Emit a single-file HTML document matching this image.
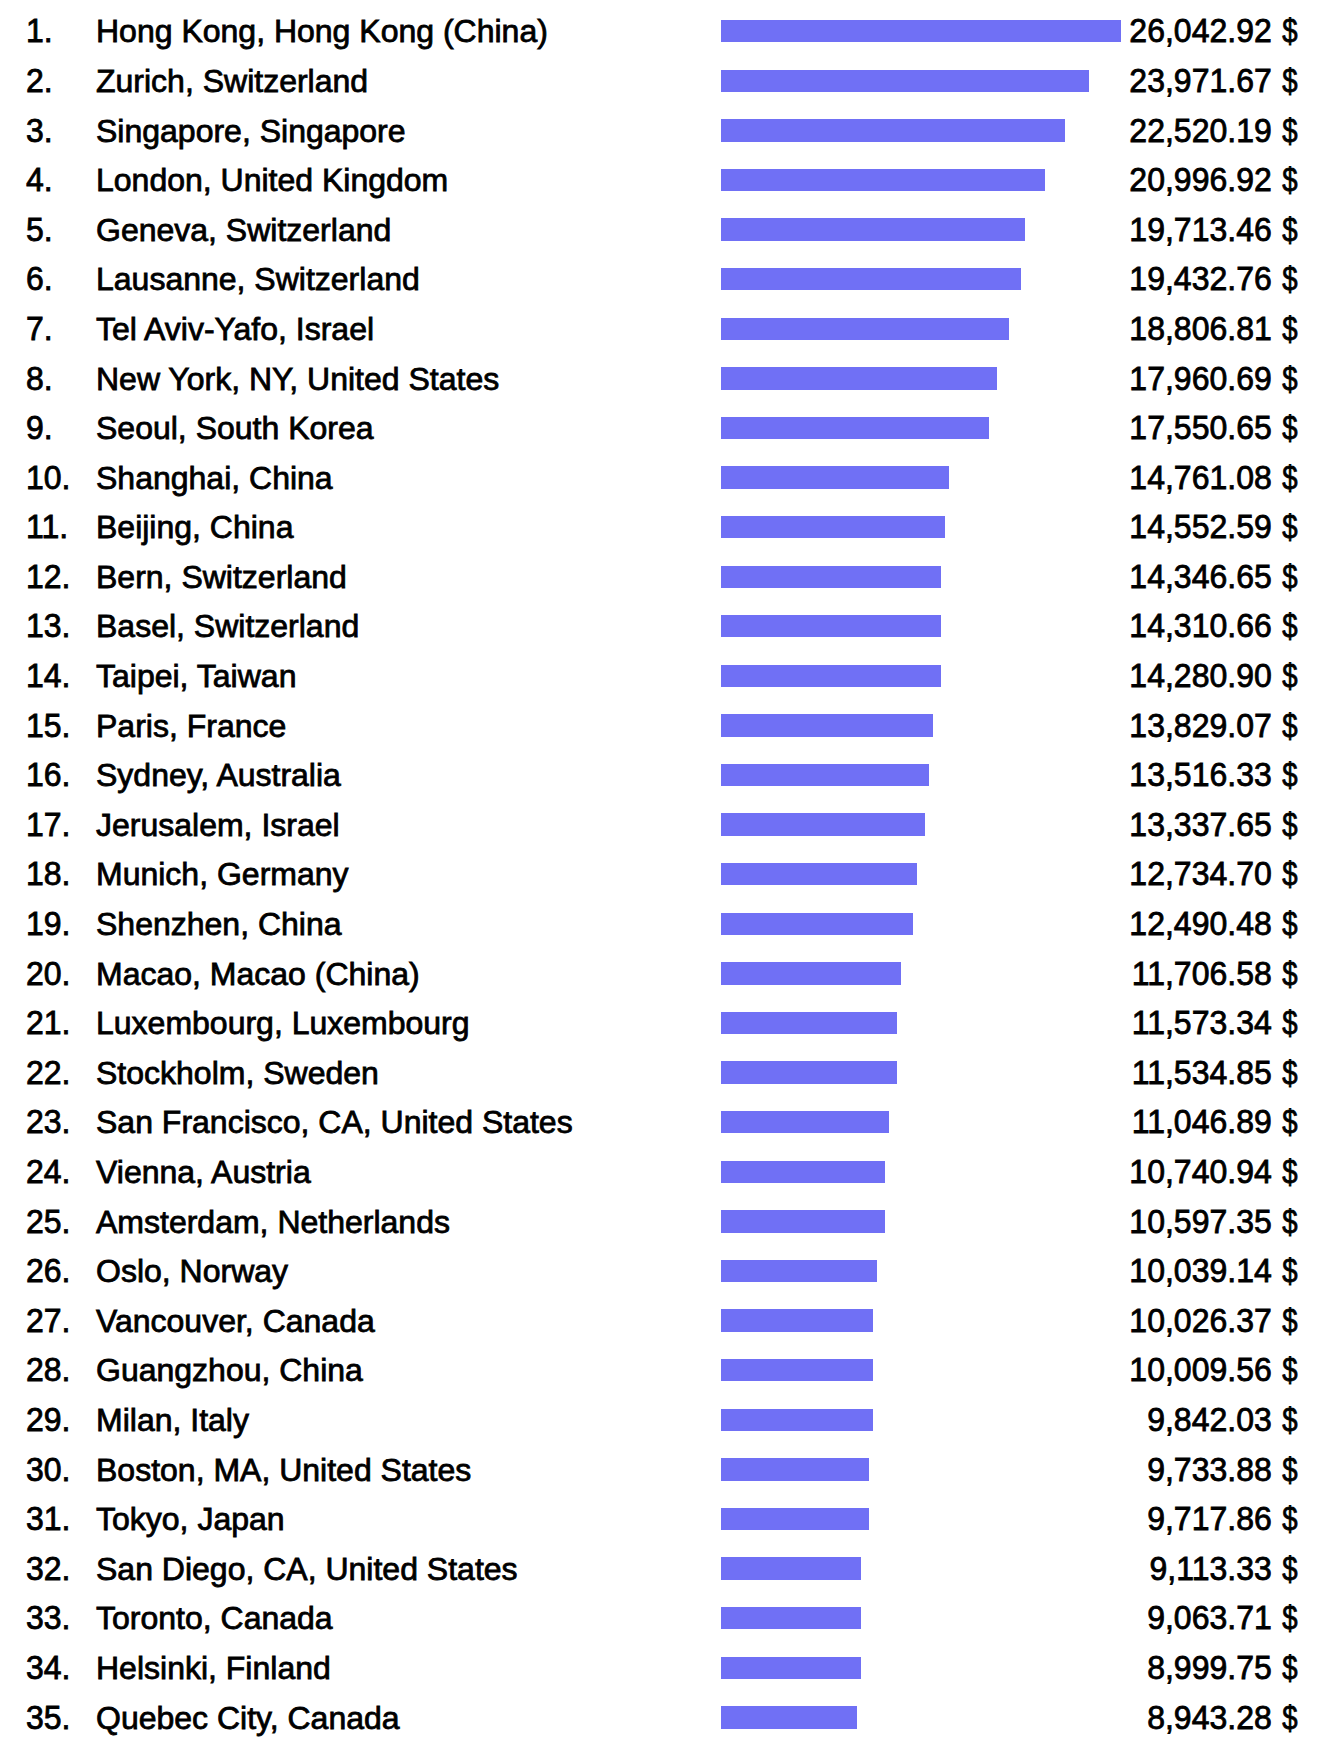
<!DOCTYPE html>
<html lang="en">
<head>
<meta charset="utf-8">
<title>Cost ranking</title>
<style>
html,body{margin:0;padding:0;background:#fff;}
body{width:1324px;height:1752px;overflow:hidden;position:relative;font-family:"Liberation Sans",Arial,Helvetica,sans-serif;font-size:32px;color:#000;-webkit-text-stroke:0.8px #000;}
.r{position:absolute;left:0;width:1324px;height:49.6px;line-height:49.6px;white-space:nowrap;}
.n{position:absolute;left:26px;top:0;transform:scale(1,1.015);transform-origin:0 35px;}
.c{position:absolute;left:96px;top:0;transform:scale(1,1.0);transform-origin:0 35px;}
.b{position:absolute;left:721px;height:22.38px;background:#7070f5;}
.d{display:inline-block;transform:scaleX(0.86);}
.v{position:absolute;right:25.6px;top:0;text-align:right;transform:scale(1,1.015);transform-origin:100% 35px;}

</style>
</head>
<body>
<div class="r" style="top:7px"><span class="n">1.</span><span class="c">Hong Kong, Hong Kong (China)</span><span class="v">26,042.92 <span class="d">$</span></span></div><div class="b" style="top:19.98px;width:400px"></div>
<div class="r" style="top:57px"><span class="n">2.</span><span class="c">Zurich, Switzerland</span><span class="v">23,971.67 <span class="d">$</span></span></div><div class="b" style="top:69.57px;width:368px"></div>
<div class="r" style="top:107px"><span class="n">3.</span><span class="c">Singapore, Singapore</span><span class="v">22,520.19 <span class="d">$</span></span></div><div class="b" style="top:119.17px;width:344px"></div>
<div class="r" style="top:156px"><span class="n">4.</span><span class="c">London, United Kingdom</span><span class="v">20,996.92 <span class="d">$</span></span></div><div class="b" style="top:168.76px;width:324px"></div>
<div class="r" style="top:206px"><span class="n">5.</span><span class="c">Geneva, Switzerland</span><span class="v">19,713.46 <span class="d">$</span></span></div><div class="b" style="top:218.36px;width:304px"></div>
<div class="r" style="top:255px"><span class="n">6.</span><span class="c">Lausanne, Switzerland</span><span class="v">19,432.76 <span class="d">$</span></span></div><div class="b" style="top:267.95px;width:300px"></div>
<div class="r" style="top:305px"><span class="n">7.</span><span class="c">Tel Aviv-Yafo, Israel</span><span class="v">18,806.81 <span class="d">$</span></span></div><div class="b" style="top:317.54px;width:288px"></div>
<div class="r" style="top:355px"><span class="n">8.</span><span class="c">New York, NY, United States</span><span class="v">17,960.69 <span class="d">$</span></span></div><div class="b" style="top:367.14px;width:276px"></div>
<div class="r" style="top:404px"><span class="n">9.</span><span class="c">Seoul, South Korea</span><span class="v">17,550.65 <span class="d">$</span></span></div><div class="b" style="top:416.73px;width:268px"></div>
<div class="r" style="top:454px"><span class="n">10.</span><span class="c">Shanghai, China</span><span class="v">14,761.08 <span class="d">$</span></span></div><div class="b" style="top:466.33px;width:228px"></div>
<div class="r" style="top:503px"><span class="n">11.</span><span class="c">Beijing, China</span><span class="v">14,552.59 <span class="d">$</span></span></div><div class="b" style="top:515.92px;width:224px"></div>
<div class="r" style="top:553px"><span class="n">12.</span><span class="c">Bern, Switzerland</span><span class="v">14,346.65 <span class="d">$</span></span></div><div class="b" style="top:565.51px;width:220px"></div>
<div class="r" style="top:602px"><span class="n">13.</span><span class="c">Basel, Switzerland</span><span class="v">14,310.66 <span class="d">$</span></span></div><div class="b" style="top:615.11px;width:220px"></div>
<div class="r" style="top:652px"><span class="n">14.</span><span class="c">Taipei, Taiwan</span><span class="v">14,280.90 <span class="d">$</span></span></div><div class="b" style="top:664.70px;width:220px"></div>
<div class="r" style="top:702px"><span class="n">15.</span><span class="c">Paris, France</span><span class="v">13,829.07 <span class="d">$</span></span></div><div class="b" style="top:714.30px;width:212px"></div>
<div class="r" style="top:751px"><span class="n">16.</span><span class="c">Sydney, Australia</span><span class="v">13,516.33 <span class="d">$</span></span></div><div class="b" style="top:763.89px;width:208px"></div>
<div class="r" style="top:801px"><span class="n">17.</span><span class="c">Jerusalem, Israel</span><span class="v">13,337.65 <span class="d">$</span></span></div><div class="b" style="top:813.48px;width:204px"></div>
<div class="r" style="top:850px"><span class="n">18.</span><span class="c">Munich, Germany</span><span class="v">12,734.70 <span class="d">$</span></span></div><div class="b" style="top:863.08px;width:196px"></div>
<div class="r" style="top:900px"><span class="n">19.</span><span class="c">Shenzhen, China</span><span class="v">12,490.48 <span class="d">$</span></span></div><div class="b" style="top:912.67px;width:192px"></div>
<div class="r" style="top:950px"><span class="n">20.</span><span class="c">Macao, Macao (China)</span><span class="v">11,706.58 <span class="d">$</span></span></div><div class="b" style="top:962.27px;width:180px"></div>
<div class="r" style="top:999px"><span class="n">21.</span><span class="c">Luxembourg, Luxembourg</span><span class="v">11,573.34 <span class="d">$</span></span></div><div class="b" style="top:1011.86px;width:176px"></div>
<div class="r" style="top:1049px"><span class="n">22.</span><span class="c">Stockholm, Sweden</span><span class="v">11,534.85 <span class="d">$</span></span></div><div class="b" style="top:1061.45px;width:176px"></div>
<div class="r" style="top:1098px"><span class="n">23.</span><span class="c">San Francisco, CA, United States</span><span class="v">11,046.89 <span class="d">$</span></span></div><div class="b" style="top:1111.05px;width:168px"></div>
<div class="r" style="top:1148px"><span class="n">24.</span><span class="c">Vienna, Austria</span><span class="v">10,740.94 <span class="d">$</span></span></div><div class="b" style="top:1160.64px;width:164px"></div>
<div class="r" style="top:1198px"><span class="n">25.</span><span class="c">Amsterdam, Netherlands</span><span class="v">10,597.35 <span class="d">$</span></span></div><div class="b" style="top:1210.24px;width:164px"></div>
<div class="r" style="top:1247px"><span class="n">26.</span><span class="c">Oslo, Norway</span><span class="v">10,039.14 <span class="d">$</span></span></div><div class="b" style="top:1259.83px;width:156px"></div>
<div class="r" style="top:1297px"><span class="n">27.</span><span class="c">Vancouver, Canada</span><span class="v">10,026.37 <span class="d">$</span></span></div><div class="b" style="top:1309.42px;width:152px"></div>
<div class="r" style="top:1346px"><span class="n">28.</span><span class="c">Guangzhou, China</span><span class="v">10,009.56 <span class="d">$</span></span></div><div class="b" style="top:1359.02px;width:152px"></div>
<div class="r" style="top:1396px"><span class="n">29.</span><span class="c">Milan, Italy</span><span class="v">9,842.03 <span class="d">$</span></span></div><div class="b" style="top:1408.61px;width:152px"></div>
<div class="r" style="top:1446px"><span class="n">30.</span><span class="c">Boston, MA, United States</span><span class="v">9,733.88 <span class="d">$</span></span></div><div class="b" style="top:1458.21px;width:148px"></div>
<div class="r" style="top:1495px"><span class="n">31.</span><span class="c">Tokyo, Japan</span><span class="v">9,717.86 <span class="d">$</span></span></div><div class="b" style="top:1507.80px;width:148px"></div>
<div class="r" style="top:1545px"><span class="n">32.</span><span class="c">San Diego, CA, United States</span><span class="v">9,113.33 <span class="d">$</span></span></div><div class="b" style="top:1557.39px;width:140px"></div>
<div class="r" style="top:1594px"><span class="n">33.</span><span class="c">Toronto, Canada</span><span class="v">9,063.71 <span class="d">$</span></span></div><div class="b" style="top:1606.99px;width:140px"></div>
<div class="r" style="top:1644px"><span class="n">34.</span><span class="c">Helsinki, Finland</span><span class="v">8,999.75 <span class="d">$</span></span></div><div class="b" style="top:1656.58px;width:140px"></div>
<div class="r" style="top:1694px"><span class="n">35.</span><span class="c">Quebec City, Canada</span><span class="v">8,943.28 <span class="d">$</span></span></div><div class="b" style="top:1706.18px;width:136px"></div>
</body>
</html>
